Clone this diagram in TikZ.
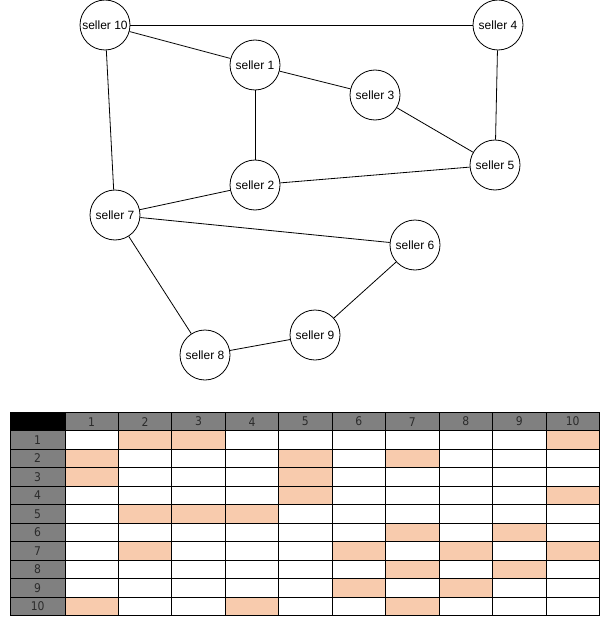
\documentclass[tikz,border=0pt]{standalone}
\usepackage{fontspec}
\setmainfont{Liberation Sans}
\newfontfamily\tablefont{DejaVu Sans Condensed}
\definecolor{peach}{HTML}{F8CBAD}
\definecolor{hdrgray}{HTML}{808080}
\definecolor{hdrtext}{HTML}{2B2B2B}

\begin{document}
\begin{tikzpicture}[x=1pt,y=-1pt,
  seller/.style={circle, draw, line width=0.8pt, minimum size=50pt, inner sep=0pt,
    font=\fontsize{12}{14}\selectfont},
  link/.style={line width=0.8pt},
  cell/.style={draw, line width=0.8pt, minimum width=53.45pt, minimum height=18.45pt,
    inner sep=0pt, anchor=north west, font=\tablefont\fontsize{12}{14}\selectfont,
    text=hdrtext},
  hcell/.style={cell, minimum width=54.5pt}]

\useasboundingbox[fill=white] (0,0) rectangle (605,623);

% ---- trade network ----
\node[seller] (s10) at (105,25)  {seller 10};
\node[seller] (s4)  at (498,25)  {seller 4};
\node[seller] (s1)  at (255,65)  {seller 1};
\node[seller] (s3)  at (375,95)  {seller 3};
\node[seller] (s5)  at (495,165) {seller 5};
\node[seller] (s2)  at (255,185) {seller 2};
\node[seller] (s7)  at (115,215) {seller 7};
\node[seller] (s6)  at (415,245) {seller 6};
\node[seller] (s9)  at (315,335) {seller 9};
\node[seller] (s8)  at (205,355) {seller 8};

\foreach \a/\b in {s10/s4, s10/s1, s10/s7, s1/s3, s1/s2, s3/s5, s4/s5,
                   s2/s5, s7/s2, s7/s6, s7/s8, s8/s9, s9/s6}
  \draw[link] (\a) -- (\b);

% ---- adjacency matrix ----
\def\tx{10}\def\ty{412}\def\hw{54.5}\def\cw{53.45}\def\rh{18.45}

% connected pairs
\foreach \r/\cols in {1/{2,3,10}, 2/{1,5,7}, 3/{1,5}, 4/{5,10}, 5/{2,3,4},
                      6/{7,9}, 7/{2,6,8,10}, 8/{7,9}, 9/{6,8}, 10/{1,4,7}}
  \foreach \c in \cols
    \fill[peach] ({\tx+\hw+(\c-1)*\cw},{\ty+\r*\rh}) rectangle ++(\cw,\rh);

% corner and headers
\node[hcell, fill=black] (corner) at (\tx,\ty) {};
\foreach \c in {1,...,10}
  \node[cell, fill=hdrgray] (col-\c) at ({\tx+\hw+(\c-1)*\cw},\ty) {\c};
\foreach \r in {1,...,10}
  \node[hcell, fill=hdrgray] (row-\r) at (\tx,{\ty+\r*\rh}) {\r};

% body grid
\foreach \r in {1,...,10}
  \foreach \c in {1,...,10}
    \node[cell] (cell-\r-\c) at ({\tx+\hw+(\c-1)*\cw},{\ty+\r*\rh}) {};

\end{tikzpicture}
\end{document}
